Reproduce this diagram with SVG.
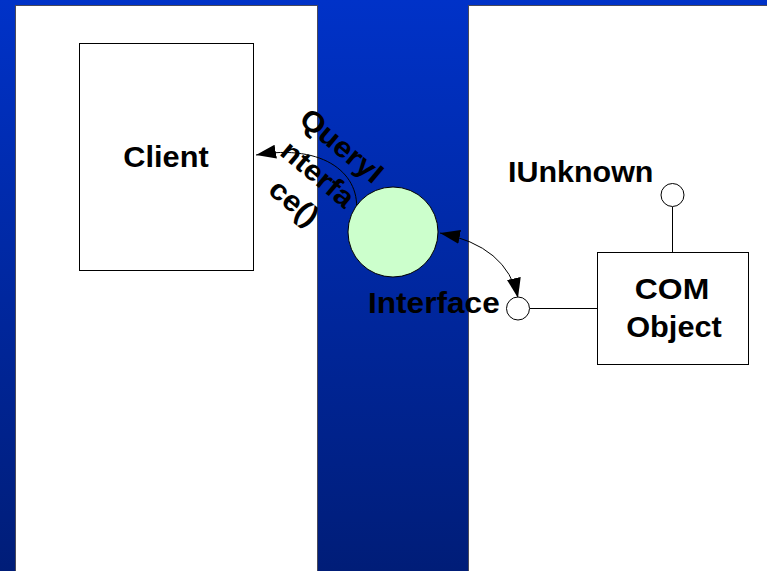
<svg xmlns="http://www.w3.org/2000/svg" width="767" height="571" viewBox="0 0 767 571">
<defs>
<linearGradient id="bg" x1="0" y1="0" x2="0" y2="1">
<stop offset="0" stop-color="#0032C8"/>
<stop offset="1" stop-color="#001D78"/>
</linearGradient>
<marker id="ah" markerUnits="userSpaceOnUse" markerWidth="22" markerHeight="16" refX="20" refY="7" orient="auto-start-reverse" viewBox="0 0 22 16">
<path d="M0,0 L20,7 L0,14 z" fill="#000"/>
</marker>
<style>
.lbl{font-family:"Liberation Sans",Arial,sans-serif;font-size:29px;font-weight:bold;fill:#000}
.box{fill:#fff;stroke:#000;stroke-width:1}
.panel{fill:#fff;stroke:#4a4a5a;stroke-width:1}
.conn{fill:none;stroke:#000;stroke-width:1}
</style>
</defs>
<rect x="0" y="0" width="767" height="571" fill="url(#bg)"/>
<rect class="panel" x="15.5" y="5.5" width="302" height="570"/>
<rect class="panel" x="468.5" y="5.5" width="302" height="570"/>

<g id="connectors">
<path class="conn" d="M356,214 C362,175 325,143 256,155" marker-end="url(#ah)"/>
<path class="conn" d="M440,233 Q507,246 518,298" marker-start="url(#ah)" marker-end="url(#ah)"/>
<line class="conn" x1="530" y1="308.5" x2="597" y2="308.5"/>
<line class="conn" x1="672.5" y1="207" x2="672.5" y2="252"/>
</g>

<g id="client">
<rect class="box" x="79.5" y="43.5" width="174" height="227"/>
<text class="lbl" text-anchor="middle" transform="translate(166,167) scale(1.06,1)">Client</text>
</g>

<g id="com-object">
<rect class="box" x="597.5" y="252.5" width="151" height="112"/>
<text class="lbl" text-anchor="middle" transform="translate(672,299) scale(1.1,1)">COM</text>
<text class="lbl" text-anchor="middle" transform="translate(674,337) scale(1.06,1)">Object</text>
</g>

<g id="iunknown">
<circle cx="672.5" cy="195" r="11.5" fill="#fff" stroke="#000"/>
<text class="lbl" transform="translate(508,182) scale(1.05,1)">IUnknown</text>
</g>

<g id="interface">
<circle cx="518" cy="308.5" r="11.5" fill="#fff" stroke="#000"/>
<circle cx="393" cy="232" r="45" fill="#CCFFCC" stroke="#000"/>
<text class="lbl" transform="translate(368,313) scale(1.09,1)">Interface</text>
</g>

<g id="query-label" transform="translate(318,174) rotate(40)">
<text class="lbl" text-anchor="middle" transform="translate(0,-27) scale(1.07,1)">QueryI</text>
<text class="lbl" text-anchor="middle" transform="translate(0,10) scale(1.07,1)">nterfa</text>
<text class="lbl" text-anchor="middle" transform="translate(0,47) scale(1.07,1)">ce()</text>
</g>
</svg>
